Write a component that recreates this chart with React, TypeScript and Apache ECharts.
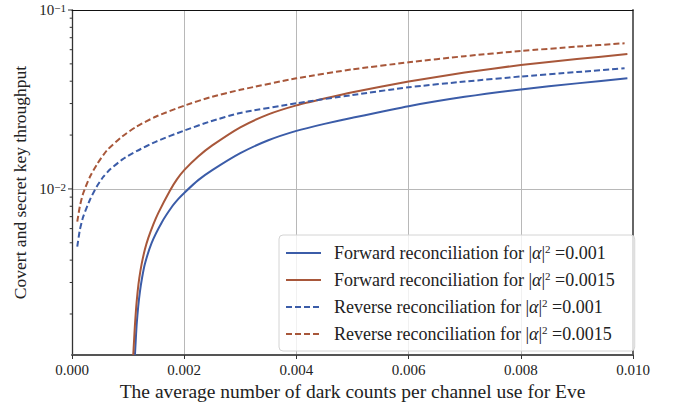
import React, { useEffect, useRef } from "react";
import * as echarts from "echarts";

// ---- data ----
const rev001X = [0.000094, 0.00014, 0.0002, 0.00032, 0.00044, 0.00056, 0.00068, 0.0009, 0.00115, 0.0015, 0.002, 0.00246, 0.003, 0.004, 0.005, 0.006, 0.007, 0.008, 0.009, 0.00985];
const rev001 = [0.00476, 0.0059, 0.0070, 0.0087, 0.0103, 0.0117, 0.01288, 0.01462, 0.01626, 0.0184, 0.0212, 0.0238, 0.0266, 0.0301, 0.0335, 0.0370, 0.0398, 0.0425, 0.0450, 0.0472];

const rev0015X = [0.000094, 0.00014, 0.0002, 0.00032, 0.00045, 0.00062, 0.0009, 0.00115, 0.0015, 0.002, 0.00246, 0.003, 0.004, 0.005, 0.006, 0.007, 0.008, 0.009, 0.00985];
const rev0015 = [0.00656, 0.0080, 0.00946, 0.0117, 0.0138, 0.0164, 0.0197, 0.0223, 0.0254, 0.0292, 0.0325, 0.0358, 0.0415, 0.0466, 0.0510, 0.0552, 0.0590, 0.0624, 0.0652];

const fwd001X = [0.001122, 0.001135, 0.001152, 0.00118, 0.001211, 0.00125, 0.0013, 0.00142, 0.0016, 0.001775, 0.0019, 0.002, 0.00225, 0.0025, 0.003, 0.0035, 0.004, 0.0045, 0.005, 0.006, 0.007, 0.008, 0.009, 0.0099];
const fwd001 = [0.00118, 0.0014, 0.00174, 0.0022, 0.00267, 0.0032, 0.00382, 0.0050, 0.0065, 0.0079, 0.00882, 0.0095, 0.0112, 0.01274, 0.01585, 0.0187, 0.0211, 0.0231, 0.0250, 0.0290, 0.0327, 0.0360, 0.0389, 0.0415];

const fwd0015X = [0.001092, 0.001105, 0.001122, 0.001145, 0.00117, 0.0012, 0.001241, 0.0013, 0.001359, 0.00145, 0.001537, 0.001745, 0.00187, 0.002, 0.00225, 0.0025, 0.003, 0.0035, 0.004, 0.0045, 0.005, 0.006, 0.007, 0.008, 0.009, 0.0099];
const fwd0015 = [0.00118, 0.0014, 0.00174, 0.0022, 0.00267, 0.00318, 0.0038, 0.0046, 0.00531, 0.00634, 0.00733, 0.00977, 0.0113, 0.01274, 0.01518, 0.0175, 0.0221, 0.0261, 0.0293, 0.0320, 0.0347, 0.0398, 0.0447, 0.0493, 0.0532, 0.0567];

const seriesNames = [
  "Forward reconciliation for |α|² =0.001",
  "Forward reconciliation for |α|² =0.0015",
  "Reverse reconciliation for |α|² =0.001",
  "Reverse reconciliation for |α|² =0.0015",
];

const xTitle = "The average number of dark counts per channel use for Eve";
const yTitle = "Covert and secret key throughput";

const yMin = 0.00118;
const yMax = 0.1;
const xMin = 0;
const xMax = 0.01;
const xInterval = 0.002;
const majorYTicks = [0.01, 0.1];
const minorYTicks = [0.002, 0.003, 0.004, 0.005, 0.006, 0.007, 0.008, 0.009, 0.02, 0.03, 0.04, 0.05, 0.06, 0.07, 0.08, 0.09];

const BLUE = "#3B5CA8";
const BROWN = "#A8573A";
const FONT = "'Liberation Serif', 'Times New Roman', serif";

const zip = (xs: number[], ys: number[]) => xs.map((x, i) => [x, ys[i]]);

export default function App() {
  const ref = useRef<HTMLDivElement>(null);
  useEffect(() => {
    if (!ref.current) return;
    const chart = echarts.init(ref.current, null, { renderer: "svg" });
    const supRich = {
      s: { fontSize: 11, fontFamily: FONT, color: "#222", verticalAlign: "top", lineHeight: 11 },
      i: { fontSize: 18, fontFamily: FONT, fontStyle: "italic", color: "#222", lineHeight: 20 },
    };
    const lineSeries = (name: string, data: number[][], color: string, dashed: boolean) => ({
      type: "line",
      name,
      data,
      symbol: "none",
      clip: true,
      smooth: 0.2,
      lineStyle: { color, width: 2, type: dashed ? [6, 3] : "solid" },
      itemStyle: { color },
      z: 3,
    });
    const tickData = [
      ...majorYTicks.map((v) => [0, v, 1]),
      ...minorYTicks.map((v) => [0, v, 0]),
    ];
    chart.setOption({
      animation: false,
      backgroundColor: "#fff",
      grid: { left: 72, right: 48, top: 10, bottom: 53, containLabel: false },
      graphic: [
        {
          type: "text",
          x: 20,
          y: 182.5,
          rotation: Math.PI / 2,
          style: {
            text: yTitle,
            fontFamily: FONT,
            fontSize: 17.5,
            fill: "#222",
            textAlign: "center",
            textVerticalAlign: "middle",
          },
        },
      ],
      xAxis: [
        {
          type: "value",
          min: xMin,
          max: xMax,
          interval: xInterval,
          name: xTitle,
          nameLocation: "middle",
          nameGap: 23,
          nameTextStyle: { fontFamily: FONT, fontSize: 19.5, color: "#222" },
          axisLine: { show: true, onZero: false, lineStyle: { color: "#555", width: 2 } },
          axisTick: { show: true, length: 4, lineStyle: { color: "#333", width: 1 } },
          axisLabel: {
            fontFamily: FONT,
            fontSize: 15,
            color: "#222",
            margin: 7,
            formatter: (v: number) => v.toFixed(3),
          },
          splitLine: { show: true, lineStyle: { color: "#b8b8b8", width: 1 } },
        },
        {
          type: "value",
          position: "top",
          min: xMin,
          max: xMax,
          axisLine: { show: true, onZero: false, lineStyle: { color: "#111", width: 1 } },
          axisTick: { show: false },
          axisLabel: { show: false },
          splitLine: { show: false },
        },
      ],
      yAxis: [
        {
          type: "log",
          logBase: 10,
          min: yMin,
          max: yMax,
          axisLine: { show: true, onZero: false, lineStyle: { color: "#333", width: 1.3 } },
          axisTick: { show: false },
          axisLabel: {
            fontFamily: FONT,
            fontSize: 15,
            color: "#222",
            margin: 6,
            rich: supRich,
            formatter: (v: number) => {
              const e = Math.log10(v);
              if (Math.abs(e - Math.round(e)) < 1e-6) return "10{s|−" + Math.abs(Math.round(e)) + "}";
              return "";
            },
          },
          splitLine: { show: true, lineStyle: { color: "#b8b8b8", width: 1 } },
        },
        {
          type: "log",
          position: "right",
          min: yMin,
          max: yMax,
          axisLine: { show: true, onZero: false, lineStyle: { color: "#666", width: 2 } },
          axisTick: { show: false },
          axisLabel: { show: false },
          splitLine: { show: false },
        },
      ],
      legend: {
        show: true,
        orient: "vertical",
        left: 279,
        top: 235,
        padding: [8, 20, 7, 6],
        itemWidth: 35,
        itemHeight: 14,
        itemGap: 7,
        backgroundColor: "rgba(255,255,255,0.8)",
        borderColor: "#d4d4d4",
        borderWidth: 1,
        borderRadius: 4,
        data: seriesNames,
        itemStyle: { opacity: 0, color: "rgba(0,0,0,0)", borderWidth: 0 },
        textStyle: {
          fontFamily: FONT,
          fontSize: 18,
          color: "#222",
          lineHeight: 20,
          padding: [0, 0, 0, 8],
          rich: supRich,
        },
        formatter: (name: string) => name.replace("|α|²", "|{i|α}|{s|2}"),
      },
      series: [
        lineSeries(seriesNames[0], zip(fwd001X, fwd001), BLUE, false),
        lineSeries(seriesNames[1], zip(fwd0015X, fwd0015), BROWN, false),
        lineSeries(seriesNames[2], zip(rev001X, rev001), BLUE, true),
        lineSeries(seriesNames[3], zip(rev0015X, rev0015), BROWN, true),
        {
          type: "custom",
          name: "yticks",
          data: tickData,
          clip: false,
          silent: true,
          z: 5,
          encode: { x: 0, y: 1 },
          renderItem: (params: any, api: any) => {
            const p = api.coord([xMin, api.value(1)]);
            const len = api.value(2) === 1 ? 4 : 2.3;
            return {
              type: "line",
              shape: { x1: p[0] - len, y1: p[1], x2: p[0], y2: p[1] },
              style: { stroke: "#333", lineWidth: 1 },
            };
          },
        },
      ],
    });
    return () => chart.dispose();
  }, []);
  return <div ref={ref} style={{ width: 681, height: 408, position: "absolute", left: 0, top: 0 }} />;
}
